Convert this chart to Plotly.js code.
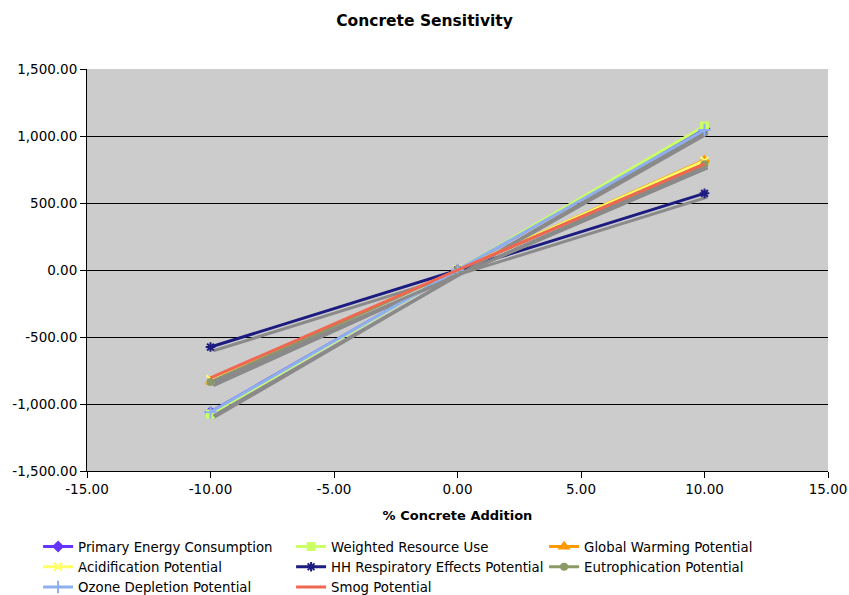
<!DOCTYPE html>
<html><head><meta charset="utf-8">
<script src="https://cdn.plot.ly/plotly-3.0.1.min.js"></script>
<style>body{margin:0;background:#fff}#c{width:849px;height:595px}</style>
</head><body><div id="c"></div>
<script>
const xVals = [-10, 0, 10];
const seriesNames = ["Primary Energy Consumption","Weighted Resource Use","Global Warming Potential","Acidification Potential","HH Respiratory Effects Potential","Eutrophication Potential","Ozone Depletion Potential","Smog Potential"];
const primaryEnergy = [-1060, 0, 1055];
const weightedResource = [-1075, 0, 1075];
const globalWarming = [-832, 0, 820];
const acidification = [-815, 0, 815];
const hhRespiratory = [-575, 0, 572];
const eutrophication = [-835, 0, 790];
const ozoneDepletion = [-1062, 0, 1045];
const smog = [-805, 0, 792];
const xTickVals = [-15, -10, -5, 0, 5, 10, 15];
const xTickText = ["-15.00","-10.00","-5.00","0.00","5.00","10.00","15.00"];
const yTickVals = [-1500, -1000, -500, 0, 500, 1000, 1500];
const yTickText = ["-1,500.00","-1,000.00","-500.00","0.00","500.00","1,000.00","1,500.00"];

const allY = [primaryEnergy, weightedResource, globalWarming, acidification, hhRespiratory, eutrophication, ozoneDepletion, smog];
const colors = ["#6633ff","#ccff66","#ff9900","#ffff66","#1c1c80","#8c9a66","#8fb0ee","#f06650"];
const symbols = ["diamond","square","triangle-up","x-thin","asterisk","circle","cross-thin","line-ew"];
const msizes = [7,7,8,8,8,6,9,0];

const traces = [];
allY.forEach((ys, i) => {
  traces.push({x: xVals.map(v => v + 0.12), y: ys.map(v => v - 28), mode: 'lines', type: 'scatter',
    line: {color: '#8a8a8a', width: 3}, showlegend: false, hoverinfo: 'skip'});
  traces.push({x: xVals, y: ys, name: seriesNames[i], type: 'scatter', mode: msizes[i] ? 'lines+markers' : 'lines',
    line: {color: colors[i], width: 3},
    marker: {symbol: symbols[i], size: msizes[i], color: colors[i], line: {color: colors[i], width: 2}}});
});

const layout = {
  width: 849, height: 595,
  margin: {l: 87, r: 21, t: 69, b: 124, autoexpand: false},
  paper_bgcolor: '#ffffff', plot_bgcolor: '#cccccc',
  font: {family: 'DejaVu Sans, Verdana, sans-serif', size: 13.5, color: '#000'},
  title: {text: '<b>Concrete Sensitivity</b>', x: 0.5, xanchor: 'center', y: 0.965, yanchor: 'middle', font: {size: 15.5}},
  xaxis: {range: [-15, 15], tickvals: xTickVals, ticktext: xTickText, showgrid: false, zeroline: false,
    showline: true, linecolor: '#000', linewidth: 1, ticks: 'outside', ticklen: 6, tickcolor: '#000',
    title: {text: '<b>% Concrete Addition</b>', font: {size: 13}, standoff: 14}},
  yaxis: {range: [-1500, 1500], tickvals: yTickVals, ticktext: yTickText, showgrid: true, gridcolor: '#000', gridwidth: 1,
    zeroline: false, showline: true, linecolor: '#000', linewidth: 1, ticks: 'outside', ticklen: 6, tickcolor: '#000'},
  legend: {orientation: 'h', x: -0.066, xanchor: 'left', y: -0.15, yanchor: 'top', entrywidth: 208, entrywidthmode: 'pixels',
    font: {size: 13.3}, tracegroupgap: 0, itemwidth: 30},
  showlegend: true
};
Plotly.newPlot('c', traces, layout, {displayModeBar: false, staticPlot: true});
</script></body></html>
